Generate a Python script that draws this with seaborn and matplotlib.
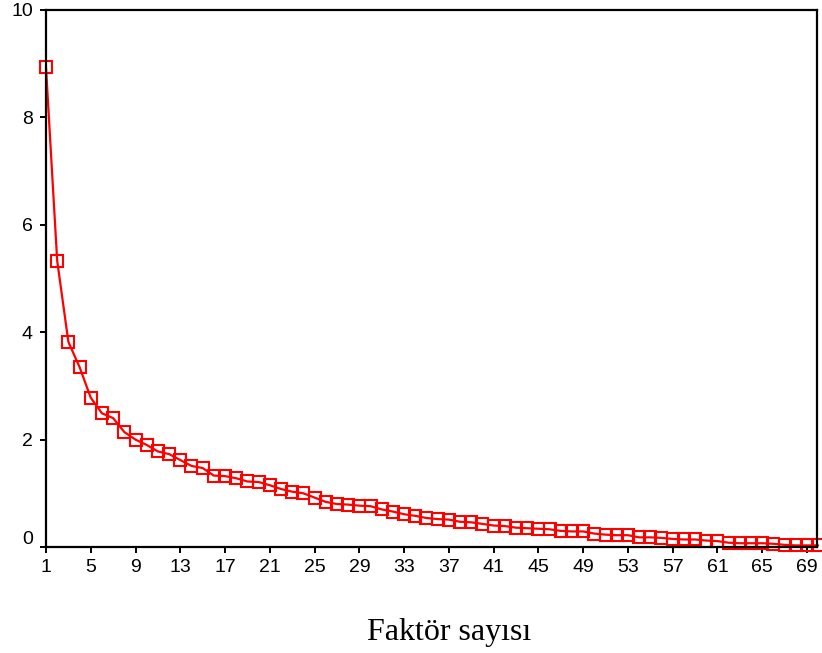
import matplotlib
matplotlib.use("Agg")
import matplotlib.pyplot as plt
import matplotlib.transforms as mtransforms
import numpy as np
import pandas as pd
import seaborn as sns

factors = list(range(1, 71))
eigenvalues = [
    8.93, 5.33, 3.82, 3.35, 2.78, 2.49, 2.40, 2.14, 2.00, 1.90,
    1.78, 1.73, 1.62, 1.51, 1.47, 1.33, 1.32, 1.28, 1.22, 1.21,
    1.15, 1.08, 1.03, 1.00, 0.92, 0.84, 0.80, 0.79, 0.77, 0.76,
    0.70, 0.66, 0.61, 0.58, 0.54, 0.52, 0.51, 0.47, 0.46, 0.43,
    0.40, 0.39, 0.36, 0.35, 0.34, 0.33, 0.30, 0.29, 0.29, 0.25,
    0.23, 0.22, 0.22, 0.18, 0.18, 0.17, 0.15, 0.14, 0.14, 0.12,
    0.11, 0.08, 0.07, 0.07, 0.07, 0.06, 0.04, 0.03, 0.03, 0.03,
]
x_ticks = list(range(1, 71, 4))
y_ticks = [0, 2, 4, 6, 8, 10]
x_title = "Faktör sayısı"

df = pd.DataFrame({"factor": factors, "eigen": eigenvalues})

sns.set_style("white")
plt.rcParams["font.family"] = ["Liberation Sans", "DejaVu Sans"]

fig = plt.figure(figsize=(8.22, 6.53), dpi=100)
ax = fig.add_axes([46 / 822, 1 - 547 / 653, (817 - 46) / 822, (547 - 10) / 653])

sns.lineplot(data=df, x="factor", y="eigen", ax=ax, color="#ff0000",
             linewidth=1.6, marker="s", markersize=8.7,
             markerfacecolor="none", markeredgecolor="#ff0000",
             markeredgewidth=1.5, clip_on=False)

ax.set_xlim(1, 69.9)
ax.set_ylim(0, 10)
ax.set_xticks(x_ticks)
ax.set_yticks(y_ticks)
ax.set_xlabel("")
ax.set_ylabel("")
for s in ax.spines.values():
    s.set_visible(True)
    s.set_color("black")
    s.set_linewidth(1.6)
ax.tick_params(axis="both", which="both", direction="out", length=4.5,
               width=1.4, color="black", labelsize=14, labelcolor="black",
               bottom=True, left=True, top=False, right=False)
ax.tick_params(axis="x", pad=4)
ax.tick_params(axis="y", pad=5)

# lift the "0" label a bit as in the reference
fig.canvas.draw()
for lbl in ax.get_yticklabels():
    if lbl.get_text() == "0":
        lbl.set_transform(lbl.get_transform() +
                          mtransforms.ScaledTranslation(0, 9 / 100, fig.dpi_scale_trans))

fig.text(449 / 822, 1 - 640 / 653, x_title, ha="center", va="baseline",
         fontsize=23, family=["Liberation Serif", "DejaVu Serif"], color="black")

fig.savefig("out.png", dpi=100)
